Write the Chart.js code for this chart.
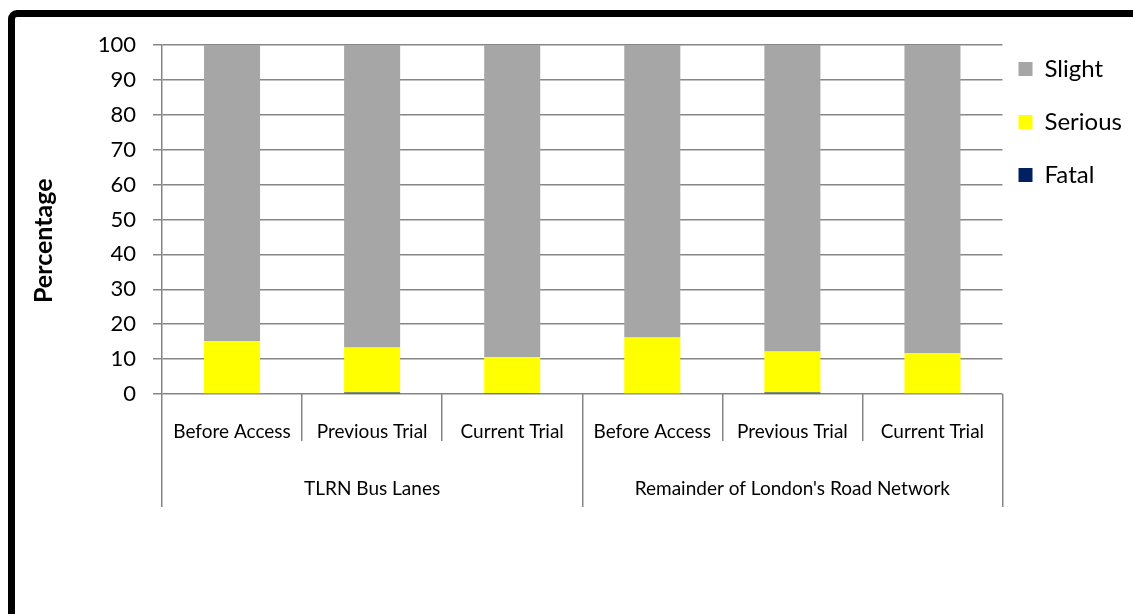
<!DOCTYPE HTML><html>
<head>
  <title>Casualty severity</title>
  <meta name="viewport" content="width=device-width, initial-scale=1">
  <style>
  html, body {
    margin: 0;
    background: #fff;
  }
  .frame {
    position: absolute;
    left: 8px;
    top: 10px;
    width: 1200px;
    height: 700px;
    border: 7px solid #000;
    border-radius: 9px;
  }
  .container {
    position: absolute;
    left: 0;
    top: 0;
    width: 1133px;
    height: 614px;
  }
  </style>
  <script src="https://cdn.jsdelivr.net/npm/chart.js"></script>
</head>
<body>
  <div class="frame"></div>
  <div class="container">
      <canvas id="severity-chart" width="1133" height="614"></canvas>
  </div>
<script>
  var periods = ['Before Access', 'Previous Trial', 'Current Trial', 'Before Access', 'Previous Trial', 'Current Trial'];
  var networks = ['TLRN Bus Lanes', "Remainder of London's Road Network"];

  var fatal   = [0.2, 0.4, 0.1, 0.2, 0.4, 0.2];
  var serious = [14.9, 12.9, 10.4, 16.0, 11.8, 11.5];
  var slight  = [84.9, 86.7, 89.5, 83.8, 87.8, 88.3];

  var gridColor = '#868686';
  var fontFamily = 'Lato, "Open Sans", sans-serif';

  var data = {
      labels: periods,
      datasets: [
          { label: 'Fatal',   data: fatal,   backgroundColor: '#002060' },
          { label: 'Serious', data: serious, backgroundColor: '#FFFF00' },
          { label: 'Slight',  data: slight,  backgroundColor: '#A6A6A6' }
      ]
  };

  // legend text as one-line arrays so the font lineHeight sets the row spacing
  function legendLabels(chart) {
    var items = Chart.defaults.plugins.legend.labels.generateLabels(chart);
    items.forEach(function (it) { it.text = [it.text]; it.lineWidth = 0; });
    return items;
  }

  // trailing nbsp pushes the axis title a little below the middle of the axis
  var yTitle = 'Percentage' + '\u00a0'.repeat(7);

  var config = {
      type: 'bar',
      data: data,
      options: {
          responsive: false,
          animation: false,
          datasets: {
              bar: { categoryPercentage: 0.4, barPercentage: 1, borderWidth: 0 }
          },
          layout: { padding: { left: 25, top: 41, right: 1, bottom: 107 } },
          plugins: {
              tooltip: { enabled: false },
              legend: {
                  position: 'right',
                  align: 'start',
                  reverse: true,
                  labels: {
                      boxWidth: 14,
                      boxHeight: 14,
                      padding: 16,
                      color: '#000',
                      font: { family: fontFamily, size: 24, lineHeight: 37 / 24 },
                      generateLabels: legendLabels
                  }
              }
          },
          scales: {
              x: {
                  stacked: true,
                  offset: true,
                  grid: { offset: true, drawOnChartArea: false, color: gridColor, lineWidth: 1.5, tickLength: 47 },
                  border: { display: false },
                  ticks: { color: '#000', padding: -21, maxRotation: 0, autoSkip: false,
                           font: { family: fontFamily, size: 19 } },
                  afterFit: function (s) { s.height = 47; }
              },
              x2: {
                  type: 'category',
                  position: 'bottom',
                  labels: networks,
                  offset: true,
                  grid: { offset: true, drawOnChartArea: false, color: gridColor, lineWidth: 1.5, tickLength: 66 },
                  border: { display: false },
                  ticks: { color: '#000', padding: -30, maxRotation: 0, autoSkip: false,
                           font: { family: fontFamily, size: 19 } },
                  afterFit: function (s) { s.height = 66; }
              },
              y: {
                  stacked: true,
                  min: 0,
                  max: 100,
                  grid: { color: gridColor, lineWidth: 1.5, tickLength: 9 },
                  border: { display: true, color: gridColor, width: 1.5 },
                  ticks: { stepSize: 10, color: '#000', padding: 17,
                           font: { family: fontFamily, size: 22 } },
                  title: {
                      display: true,
                      text: yTitle,
                      color: '#000',
                      padding: { top: 4, bottom: 4 },
                      font: { family: fontFamily, size: 25, weight: 'bold' }
                  },
                  afterFit: function (s) { s.width = 137; s.paddingTop = 45; }
              }
          }
      }
  };

  var myChart = new Chart(document.getElementById('severity-chart'), config);
</script>
</body>
</html>
